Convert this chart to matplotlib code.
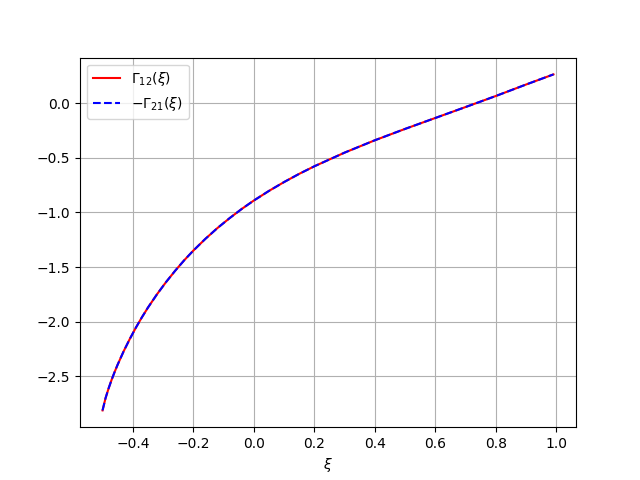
import numpy as np
import matplotlib.pyplot as plt

# valores (suavizados)
xi = [-0.5, -0.49, -0.48, -0.47, -0.46, -0.45, -0.43, -0.41, -0.39, -0.37, -0.35,
      -0.32, -0.29, -0.26, -0.23, -0.2, -0.16, -0.12, -0.08, -0.04, 0.0, 0.05,
      0.1, 0.15, 0.2, 0.3, 0.4, 0.5, 0.6, 0.7, 0.8, 0.9, 0.99]
gamma12 = [-2.81, -2.697, -2.609, -2.530, -2.458, -2.391, -2.268, -2.157, -2.054,
           -1.959, -1.870, -1.748, -1.636, -1.533, -1.437, -1.349, -1.241, -1.142,
           -1.052, -0.968, -0.891, -0.803, -0.722, -0.647, -0.578, -0.453, -0.340,
           -0.236, -0.136, -0.036, 0.065, 0.170, 0.262]
# -Gamma21 coincide com Gamma12
minus_gamma21 = list(gamma12)

plt.figure(figsize=(6.4, 4.8), dpi=100)
plt.plot(xi, gamma12, 'r-', label=r'$\Gamma_{12}(\xi)$')
plt.plot(xi, minus_gamma21, 'b--', label=r'$-\Gamma_{21}(\xi)$')
plt.xlabel(r'$\xi$')
plt.legend(loc='upper left')
plt.grid(True)
plt.savefig('out.png')
